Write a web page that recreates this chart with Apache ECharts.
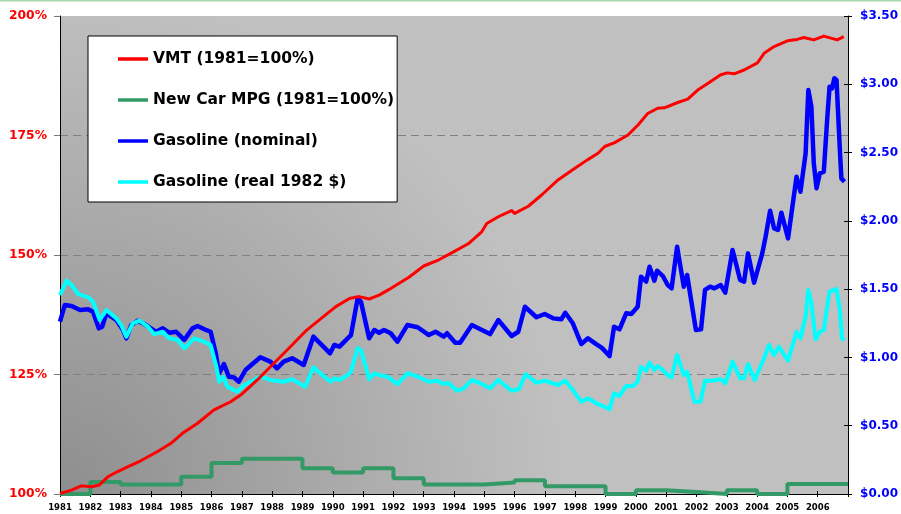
<!DOCTYPE html>
<html><head><meta charset="utf-8">
<script src="https://cdn.jsdelivr.net/npm/echarts@6/dist/echarts.min.js"></script>
<style>html,body{margin:0;padding:0;background:#fff}#c{width:901px;height:514px}</style>
</head><body><div id="c"></div>
<script>
// ---- DATA ----
const vmtYears = [1981.0,1981.38,1981.7,1982.04,1982.3,1982.58,1982.9,1983.3,1983.68,1984.22,1984.66,1985.04,1985.54,1986.08,1986.63,1986.96,1987.5,1988.05,1988.6,1989.14,1989.69,1990.1,1990.55,1990.87,1991.2,1991.53,1991.86,1992.19,1992.5,1993.0,1993.5,1994.0,1994.48,1994.92,1995.08,1995.46,1995.9,1996.0,1996.45,1996.9,1997.43,1998.0,1998.4,1998.75,1998.97,1999.3,1999.74,2000.07,2000.39,2000.72,2000.94,2001.38,2001.71,2002.04,2002.37,2002.8,2003.02,2003.24,2003.57,2004.01,2004.23,2004.56,2005.0,2005.32,2005.54,2005.87,2006.2,2006.64,2006.86];
const vmtPct = [100.1,100.8,101.7,101.5,101.9,103.6,104.7,105.9,107.0,108.9,110.6,112.7,114.8,117.6,119.3,120.7,123.8,127.3,130.8,134.3,137.1,139.2,140.9,141.3,140.8,141.6,142.8,144.1,145.3,147.7,149.0,150.7,152.4,154.9,156.6,158.0,159.3,158.7,160.2,162.6,165.7,168.2,169.9,171.3,172.7,173.5,175.1,177.2,179.6,180.7,180.8,181.9,182.6,184.5,185.9,187.7,188.1,187.9,188.7,190.2,192.2,193.6,194.8,195.1,195.5,195.0,195.8,195.0,195.7];

const mpgYears = [1981,1982,1983,1984,1985,1986,1987,1988,1989,1990,1991,1992,1993,1994,1995,1996,1997,1998,1999,2000,2001,2002,2003,2004,2005,2006,2007];
const mpgPct = [100,102.5,102.0,102.0,103.6,106.5,107.4,107.4,105.4,104.5,105.4,103.3,102.0,102.0,102.4,102.9,101.6,101.6,100.0,100.8,100.4,100.0,100.8,100.0,102.1,102.1,102.1];

const gasNomYears = [1981.0,1981.16,1981.38,1981.66,1981.93,1982.09,1982.28,1982.39,1982.53,1982.86,1983.08,1983.19,1983.35,1983.57,1983.84,1984.17,1984.39,1984.6,1984.83,1985.1,1985.37,1985.54,1985.81,1985.97,1986.14,1986.25,1986.41,1986.57,1986.74,1986.9,1987.12,1987.61,1987.94,1988.16,1988.38,1988.66,1989.04,1989.36,1989.69,1989.91,1990.05,1990.22,1990.49,1990.6,1990.82,1990.93,1991.2,1991.37,1991.53,1991.69,1991.91,1992.13,1992.46,1992.8,1993.17,1993.39,1993.66,1993.77,1994.04,1994.2,1994.59,1994.92,1995.19,1995.46,1995.9,1996.12,1996.34,1996.72,1996.99,1997.27,1997.54,1997.67,1997.92,1998.2,1998.42,1998.69,1998.88,1999.13,1999.28,1999.46,1999.68,1999.85,2000.06,2000.17,2000.34,2000.45,2000.61,2000.7,2000.89,2001.05,2001.18,2001.36,2001.58,2001.69,2001.98,2002.15,2002.28,2002.45,2002.59,2002.8,2002.95,2003.19,2003.44,2003.57,2003.7,2003.9,2004.17,2004.28,2004.43,2004.56,2004.69,2004.8,2005.02,2005.3,2005.43,2005.6,2005.69,2005.79,2005.87,2005.96,2006.07,2006.2,2006.31,2006.39,2006.47,2006.55,2006.62,2006.73,2006.78,2006.88];
const gasNomPrice = [1.262,1.384,1.377,1.347,1.352,1.335,1.213,1.225,1.323,1.274,1.201,1.140,1.237,1.269,1.237,1.188,1.213,1.181,1.188,1.128,1.213,1.230,1.201,1.188,1.030,0.884,0.952,0.859,0.854,0.822,0.908,1.001,0.969,0.920,0.969,0.994,0.945,1.152,1.079,1.030,1.091,1.079,1.140,1.164,1.433,1.408,1.140,1.201,1.181,1.201,1.177,1.115,1.237,1.221,1.164,1.188,1.152,1.177,1.108,1.108,1.237,1.201,1.171,1.274,1.157,1.188,1.371,1.294,1.318,1.286,1.279,1.327,1.250,1.098,1.140,1.098,1.070,1.010,1.225,1.206,1.323,1.318,1.371,1.591,1.555,1.664,1.562,1.635,1.596,1.530,1.506,1.811,1.518,1.604,1.201,1.206,1.494,1.518,1.506,1.530,1.474,1.787,1.567,1.555,1.762,1.547,1.762,1.884,2.074,1.945,1.933,2.060,1.872,2.323,2.213,2.494,2.958,2.836,2.421,2.238,2.348,2.360,2.738,2.982,2.970,3.044,3.031,2.519,2.311,2.287];

const gasRealYears = [1981.0,1981.22,1981.38,1981.6,1981.93,1982.09,1982.31,1982.53,1982.86,1983.02,1983.19,1983.4,1983.62,1983.9,1984.11,1984.39,1984.6,1984.88,1985.1,1985.43,1985.75,1985.97,1986.16,1986.25,1986.39,1986.52,1986.85,1987.07,1987.61,1987.94,1988.38,1988.66,1989.09,1989.36,1989.69,1989.93,1990.05,1990.22,1990.49,1990.6,1990.82,1990.93,1991.2,1991.37,1991.53,1991.8,1992.13,1992.46,1992.8,1993.17,1993.44,1993.66,1993.8,1994.1,1994.32,1994.59,1994.92,1995.19,1995.46,1995.9,1996.14,1996.36,1996.72,1996.99,1997.43,1997.67,1997.92,1998.2,1998.42,1998.69,1998.91,1999.13,1999.28,1999.46,1999.68,1999.9,2000.06,2000.17,2000.34,2000.45,2000.61,2000.72,2000.89,2001.05,2001.18,2001.36,2001.58,2001.69,2001.93,2002.13,2002.28,2002.48,2002.8,2002.95,2003.19,2003.44,2003.57,2003.7,2003.92,2004.23,2004.39,2004.56,2004.72,2005.02,2005.3,2005.43,2005.6,2005.69,2005.79,2005.93,2006.07,2006.2,2006.31,2006.39,2006.55,2006.62,2006.73,2006.8,2006.88];
const gasRealPrice = [1.457,1.562,1.530,1.464,1.440,1.408,1.274,1.347,1.286,1.237,1.152,1.250,1.269,1.225,1.171,1.188,1.140,1.128,1.067,1.140,1.115,1.091,0.932,0.822,0.859,0.786,0.749,0.798,0.859,0.835,0.822,0.840,0.786,0.928,0.864,0.822,0.847,0.835,0.871,0.896,1.067,1.054,0.840,0.884,0.871,0.859,0.805,0.884,0.859,0.822,0.830,0.805,0.815,0.756,0.774,0.835,0.805,0.774,0.835,0.756,0.767,0.879,0.815,0.830,0.798,0.830,0.761,0.676,0.701,0.664,0.644,0.620,0.737,0.718,0.791,0.791,0.822,0.932,0.903,0.962,0.908,0.937,0.908,0.871,0.854,1.018,0.871,0.896,0.676,0.676,0.830,0.830,0.840,0.811,0.969,0.847,0.847,0.952,0.835,0.994,1.091,1.018,1.079,0.976,1.188,1.140,1.298,1.494,1.400,1.133,1.188,1.201,1.371,1.481,1.494,1.500,1.347,1.140,1.128];

const seriesNames = ['VMT (1981=100%)','New Car MPG (1981=100%)','Gasoline (nominal)','Gasoline (real 1982 $)'];
const seriesColors = ['#ff0000','#339966','#0000ff','#00ffff'];

// ---- CHART ----
const zip = (xs, ys) => xs.map((x, i) => [x, ys[i]]);
const FONT = 'DejaVu Sans';
const chart = echarts.init(document.getElementById('c'), null, {renderer: 'canvas'});
chart.setOption({
  animation: false,
  textStyle: {fontFamily: FONT},
  grid: {
    left: 60, right: 50, top: 16, bottom: 20, show: true, borderWidth: 0,
    backgroundColor: {type: 'radial', x: 0, y: 1, r: 1.05,
      colorStops: [{offset: 0, color: '#8e8e8e'}, {offset: 1, color: '#c0c0c0'}]}
  },
  graphic: [{type: 'rect', left: 0, top: 0, shape: {width: 901, height: 1.5}, style: {fill: '#a8d8a8'}, silent: true}],
  legend: {
    orient: 'vertical', left: 88, top: 36,
    padding: [15, 3, 12, 30],
    itemWidth: 30, itemHeight: 14, itemGap: 25,
    backgroundColor: '#ffffff', borderColor: '#000000', borderWidth: 1,
    selectedMode: false,
    icon: 'path://M0,0L30,0L30,3.5L0,3.5Z',
    textStyle: {fontFamily: FONT, fontSize: 15.5, fontWeight: 'bold', color: '#000', lineHeight: 14},
    data: seriesNames
  },
  xAxis: [{
    type: 'value', min: 1981, max: 2007, interval: 1, position: 'bottom',
    axisLine: {show: true, lineStyle: {color: '#000', width: 1}},
    axisTick: {show: true, length: 3, lineStyle: {color: '#000'}},
    splitLine: {show: false},
    axisLabel: {margin: 9, fontFamily: FONT, fontSize: 8.5, fontWeight: 'bold', color: '#000',
      formatter: v => (v >= 2007 ? '' : String(v))}
  }, {
    type: 'value', min: 1981, max: 2007, interval: 1, position: 'bottom',
    axisLine: {show: false}, axisLabel: {show: false}, splitLine: {show: false},
    axisTick: {show: true, inside: true, length: 3, lineStyle: {color: '#000'}}
  }],
  yAxis: [{
    type: 'value', min: 100, max: 200, interval: 25, position: 'left',
    axisLine: {show: true, lineStyle: {color: '#000', width: 1}},
    axisTick: {show: true, length: 6, lineStyle: {color: '#777'}},
    splitLine: {show: true, showMinLine: false, showMaxLine: false, lineStyle: {color: '#808080', type: [8, 5], width: 1}},
    axisLabel: {margin: 13, fontFamily: FONT, fontSize: 12.3, fontWeight: 'bold', color: '#ff0000', formatter: v => v + '%'}
  }, {
    type: 'value', min: 0, max: 3.5, interval: 0.5, position: 'right',
    axisLine: {show: true, lineStyle: {color: '#000', width: 1}},
    axisTick: {show: true, length: 4, lineStyle: {color: '#000'}},
    splitLine: {show: false},
    axisLabel: {margin: 12, fontFamily: FONT, fontSize: 12, fontWeight: 'bold', color: '#0000ff', formatter: v => '$' + v.toFixed(2)}
  }, {
    type: 'value', min: 0, max: 3.5, interval: 0.5, position: 'right',
    axisLine: {show: false}, axisLabel: {show: false}, splitLine: {show: false},
    axisTick: {show: true, inside: true, length: 4, lineStyle: {color: '#000'}}
  }],
  series: [{
    name: seriesNames[1], type: 'line', xAxisIndex: 0, yAxisIndex: 0, step: 'end', clip: false,
    data: zip(mpgYears, mpgPct), symbol: 'none', z: 2,
    lineStyle: {color: seriesColors[1], width: 4}, itemStyle: {color: seriesColors[1]}
  }, {
    name: seriesNames[2], type: 'line', xAxisIndex: 0, yAxisIndex: 1,
    data: zip(gasNomYears, gasNomPrice), symbol: 'none', z: 3,
    lineStyle: {color: seriesColors[2], width: 4.5, join: 'round'}, itemStyle: {color: seriesColors[2]}
  }, {
    name: seriesNames[3], type: 'line', xAxisIndex: 0, yAxisIndex: 1,
    data: zip(gasRealYears, gasRealPrice), symbol: 'none', z: 4,
    lineStyle: {color: seriesColors[3], width: 4, join: 'round'}, itemStyle: {color: seriesColors[3]}
  }, {
    name: seriesNames[0], type: 'line', xAxisIndex: 0, yAxisIndex: 0,
    data: zip(vmtYears, vmtPct), symbol: 'none', z: 5,
    lineStyle: {color: seriesColors[0], width: 3, join: 'round'}, itemStyle: {color: seriesColors[0]}
  }]
});
</script>
</body></html>
